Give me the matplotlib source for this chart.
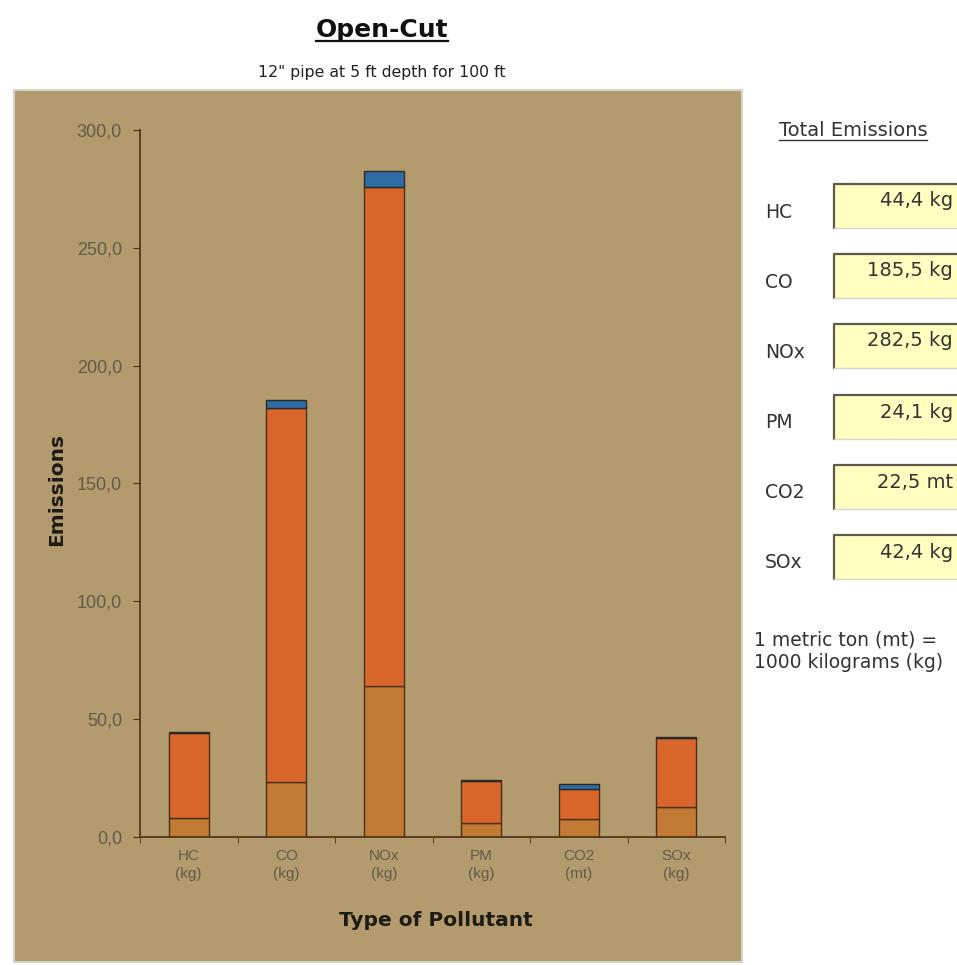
"""
Open-Cut 排放量堆叠柱状图
"""

import matplotlib
matplotlib.use("Agg")
import matplotlib.pyplot as plt
from matplotlib.patches import Rectangle
from matplotlib.lines import Line2D

plt.rcParams["font.family"] = ["DejaVu Sans"]

# 数据
pollutants = ["HC", "CO", "NOx", "PM", "CO2", "SOx"]
units = ["kg", "kg", "kg", "kg", "mt", "kg"]
seg_bottom = [8.0, 23.3, 64.0, 6.0, 7.5, 12.8]
seg_middle = [36.0, 158.7, 212.0, 17.7, 13.0, 29.2]
seg_top = [0.4, 3.5, 6.5, 0.4, 2.0, 0.4]
y_ticks = [0, 50, 100, 150, 200, 250, 300]

totals = [round(a + b + c, 1) for a, b, c in zip(seg_bottom, seg_middle, seg_top)]

W, H = 957, 965
fig = plt.figure(figsize=(W / 100, H / 100), dpi=100)
fig.patch.set_facecolor("white")

TAN = "#b39b6e"
EDGE = "#4a2f14"
ARIAL = ["Liberation Sans", "DejaVu Sans"]


def fx(px):
    return px / W


def fy(py):
    return 1 - py / H


# 图表背景面板
fig.patches.append(Rectangle((fx(14), fy(962)), fx(742) - fx(14), fy(90) - fy(962),
                             transform=fig.transFigure, facecolor=TAN,
                             edgecolor="#d8d2c4", linewidth=1.5, zorder=-5))

ax = fig.add_axes([fx(140), fy(837), fx(725) - fx(140), fy(130) - fy(837)])
ax.set_facecolor("none")
ax.set_zorder(2)

x = list(range(len(pollutants)))
bw = 0.41
ax.bar(x, seg_bottom, bw, color="#c27a35", edgecolor=EDGE, linewidth=1.0)
ax.bar(x, seg_middle, bw, bottom=seg_bottom, color="#d9662a", edgecolor=EDGE, linewidth=1.0)
mid_top = [a + b for a, b in zip(seg_bottom, seg_middle)]
ax.bar(x, seg_top, bw, bottom=mid_top, color="#2e6da4", edgecolor="#2a2a2a", linewidth=1.0)

ax.set_xlim(-0.5, len(pollutants) - 0.5)
ax.set_ylim(0, 300)
ax.set_yticks(y_ticks)
ax.set_yticklabels([f"{v:.1f}".replace(".", ",") for v in y_ticks],
                   color="#625b4c", fontsize=13, family=ARIAL)
ax.set_xticks(x)
ax.set_xticklabels([f"{p}\n({u})" for p, u in zip(pollutants, units)],
                   color="#625b4c", fontsize=11, linespacing=1.35, family=ARIAL)
ax.set_xticks([i - 0.5 for i in range(len(pollutants) + 1)], minor=True)
ax.tick_params(axis="x", which="major", length=0, pad=9)
ax.tick_params(axis="x", which="minor", length=4, direction="out", color=EDGE)
ax.tick_params(axis="y", length=5, direction="out", color=EDGE, pad=8)

for s in ["top", "right"]:
    ax.spines[s].set_visible(False)
for s in ["left", "bottom"]:
    ax.spines[s].set_color(EDGE)
    ax.spines[s].set_linewidth(1.2)

fig.text(fx(57), fy(490), "Emissions", rotation=90, ha="center", va="center",
         fontsize=14.5, fontweight="bold", color="#1e1a14")
fig.text(fx(436), fy(921), "Type of Pollutant", ha="center", va="center",
         fontsize=14.5, fontweight="bold", color="#1e1a14")

# 标题
title = fig.text(fx(382), fy(30), "Open-Cut", ha="center", va="center",
                 fontsize=18, fontweight="bold", color="#111111")
fig.text(fx(382), fy(72), "12\" pipe at 5 ft depth for 100 ft", ha="center",
         va="center", fontsize=11.3, color="#222222")
te = fig.text(fx(853), fy(131), "Total Emissions", ha="center", va="center",
              fontsize=14, color="#333333")

# 右侧总量框（凹陷样式：上、左边框深色）
box_tops = [184, 254, 324, 395, 465, 535]
bx0, bx1 = 834, 960
for name, unit, tot, top in zip(pollutants, units, totals, box_tops):
    bh = 44
    fig.patches.append(Rectangle((fx(bx0), fy(top + bh)), fx(bx1 - bx0), fy(top) - fy(top + bh),
                                 transform=fig.transFigure, facecolor="#ffffc0",
                                 edgecolor="none", zorder=2))
    fig.lines.append(Line2D([fx(bx0), fx(bx0), fx(bx1)],
                            [fy(top + bh), fy(top), fy(top)],
                            transform=fig.transFigure, color="#5e5a50", linewidth=1.6, zorder=3))
    fig.lines.append(Line2D([fx(bx0), fx(bx1)], [fy(top + bh), fy(top + bh)],
                            transform=fig.transFigure, color="#d8d6c8", linewidth=1.0, zorder=3))
    fig.text(fx(765), fy(top + 28), name, ha="left", va="center",
             fontsize=13.5, color="#333333")
    fig.text(fx(953), fy(top + 17), f"{tot:.1f} {unit}".replace(".", ","),
             ha="right", va="center", fontsize=14, color="#333333", zorder=4)

fig.text(fx(754), fy(640), "1 metric ton (mt) =", ha="left", va="center",
         fontsize=13.5, color="#333333")
fig.text(fx(754), fy(663), "1000 kilograms (kg)", ha="left", va="center",
         fontsize=13.5, color="#333333")

# 下划线
fig.canvas.draw()
renderer = fig.canvas.get_renderer()
for t, lw in [(title, 1.6), (te, 1.0)]:
    bb = t.get_window_extent(renderer).transformed(fig.transFigure.inverted())
    fig.lines.append(Line2D([bb.x0, bb.x1], [bb.y0 + 0.001, bb.y0 + 0.001],
                            transform=fig.transFigure, color=t.get_color(), linewidth=lw))

fig.savefig("out.png", dpi=100)
plt.close(fig)
